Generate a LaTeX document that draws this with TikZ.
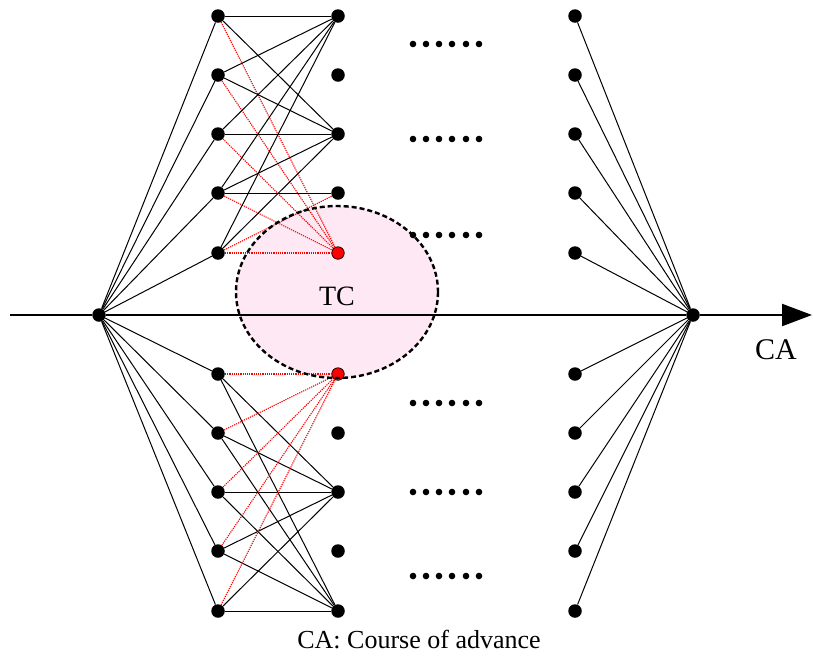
\documentclass[tikz,border=0pt]{standalone}
\usepackage{fontspec}
\setmainfont{Liberation Serif}
\usetikzlibrary{arrows.meta}
\definecolor{tcpink}{RGB}{253,232,243}
\tikzset{
  dot/.style={circle,fill=black,inner sep=0pt,minimum size=13.5pt},
  reddot/.style={circle,fill=red,draw=black,line width=0.7pt,inner sep=0pt,minimum size=12.5pt},
  link/.style={black,line width=1pt},
  redlink/.style={red,line width=1.1pt,dash pattern=on 1.2pt off 1pt},
  axisline/.style={line width=2.2pt,-{Triangle[length=30pt,width=22pt]}},
  ellborder/.style={line width=2.4pt,dash pattern=on 5pt off 3pt},
  ellip/.style={fill=black,radius=3.3pt},
  lbl/.style={inner sep=0pt}
}
\begin{document}
\begin{tikzpicture}[x=1pt,y=-1pt]
\useasboundingbox (0,0) rectangle (813,657);
% TC region fill
\fill[tcpink] (337,292) ellipse [x radius=101, y radius=86];
% nodes
\node[dot] (s) at (99,315) {};
\node[dot] (t) at (693,315) {};
\foreach \y [count=\i] in {16,75,134,193,253,374,433,492,551,611} {
  \node[dot] (a\i) at (218,\y) {};
  \node[dot] (c\i) at (575,\y) {};
}
\foreach \y [count=\i] in {16,75,134,193} {
  \node[dot] (b\i) at (338,\y) {};
}
\node[reddot] (b5) at (338,253) {};
\node[reddot] (b6) at (338,374) {};
\foreach \y [count=\i from 7] in {433,492,551,611} {
  \node[dot] (b\i) at (338,\y) {};
}
% source and sink fans
\foreach \i in {1,...,10} {
  \draw[link] (s) -- (a\i);
  \draw[link] (c\i) -- (t);
}
% upper network
\foreach \i in {1,...,5} {
  \draw[link] (a\i) -- (b1);
  \draw[link] (a\i) -- (b3);
  \draw[redlink] (a\i) -- (b5);
}
\draw[link] (a4) -- (b4);
\draw[redlink] (a5) -- (b4);
% lower network
\foreach \i in {6,...,10} {
  \draw[link] (a\i) -- (b8);
  \draw[link] (a\i) -- (b10);
  \draw[redlink] (a\i) -- (b6);
}
% course of advance axis
\coordinate (axl) at (10,315);
\coordinate (axr) at (812,315);
\draw[axisline] (axl) -- (s) -- (t) -- (axr);
% TC region border
\draw[ellborder] (337,292) ellipse [x radius=101, y radius=86];
% ellipsis dots
\foreach \y in {44,139,235,403,492,576} {
  \foreach \x in {413,426,439,452,466,479} {
    \fill[ellip] (\x,\y) circle;
  }
}
% labels
\node[lbl,font=\fontsize{28}{32}\selectfont] (tc) at (337,296) {TC};
\node[lbl,font=\fontsize{30}{34}\selectfont] (ca) at (776,350) {CA};
\node[lbl,font=\fontsize{26}{30}\selectfont] (cap) at (419,640) {CA: Course of advance};
\end{tikzpicture}
\end{document}
